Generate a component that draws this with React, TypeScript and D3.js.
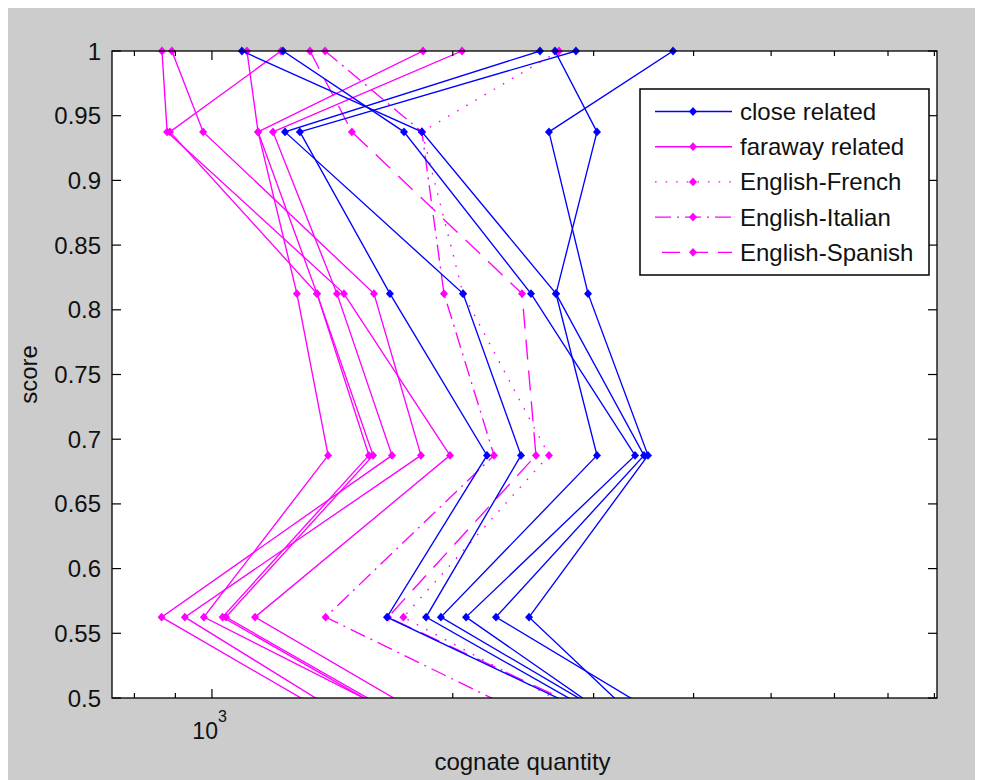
import React from "react";
import * as d3 from "d3";

// score levels shared by every line (last one lies below the axis and is clipped)
const scores = [1, 0.9375, 0.8125, 0.6875, 0.5625, 0.4375];

const closeRelated = [
  [1227, 1738, 2505, 3380, 2078, 4063],
  [1090, 1830, 2692, 3468, 2265, 4917],
  [2571, 1234, 2060, 2434, 1852, 4209],
  [2851, 1288, 1669, 2207, 1655, 4423],
  [2684, 3029, 2692, 3029, 1933, 4269],
  [3770, 2638, 2952, 3508, 2491, 4073],
];

const farawayRelated = [
  [866, 879, 1462, 1984, 1132, 2514],
  [1220, 886, 1353, 1571, 1031, 2326],
  [891, 975, 1594, 1825, 925, 1963],
  [1106, 1142, 1277, 1397, 977, 2451],
  [1836, 1142, 1353, 1590, 1041, 2353],
  [2054, 1192, 1433, 1679, 865, 1929],
];

const englishFrench = [2715, 1830, 2060, 2638, 1735, 4127];
const englishItalian = [1385, 1830, 1950, 2252, 1387, 3605];
const englishSpanish = [1326, 1496, 2441, 2541, 1660, 4487];

const legendLabels = [
  "close related",
  "faraway related",
  "English-French",
  "English-Italian",
  "English-Spanish",
];

const yTicks = [0.5, 0.55, 0.6, 0.65, 0.7, 0.75, 0.8, 0.85, 0.9, 0.95, 1];
const xMajorTicks = [1000];
const xMinorTicks = [800, 900, 2000, 3000, 4000, 5000, 6000, 7000, 8000];

const BLUE = "#0000ff";
const MAGENTA = "#ff00ff";
const FONT = "'Liberation Sans', Arial, Helvetica, sans-serif";

const DOTTED = "1.6 9";
const DASHDOT = "16 6 2 6";
const DASHED = "20 11";

const left = 112;
const right = 937;
const top = 51;
const bottom = 698;

const x = d3.scaleLog().domain([750, 8060]).range([left, right]);
const y = d3.scaleLinear().domain([0.5, 1]).range([bottom, top]);

const line = d3
  .line<number>()
  .x((d) => x(d))
  .y((_, i) => y(scores[i]));

const diamond = "M0,-4.4L4,0L0,4.4L-4,0Z";

const Series = ({ values, color, dash }) => (
  <g>
    <path
      d={line(values)}
      fill="none"
      stroke={color}
      strokeWidth={1.35}
      strokeDasharray={dash}
      clipPath="url(#plot-clip)"
    />
    {values.map((v, i) =>
      scores[i] >= 0.5 ? (
        <path
          key={i}
          d={diamond}
          transform={`translate(${x(v)},${y(scores[i])})`}
          fill={color}
        />
      ) : null
    )}
  </g>
);

export default function App() {
  const legendItems = [
    { color: BLUE, dash: undefined, offset: 0 },
    { color: MAGENTA, dash: undefined, offset: 0 },
    { color: MAGENTA, dash: DOTTED, offset: 0 },
    { color: MAGENTA, dash: DASHDOT, offset: 0 },
    { color: MAGENTA, dash: "18 10", offset: -7 },
  ];

  return (
    <svg
      width={983}
      height={780}
      style={{ position: "absolute", left: 0, top: 0, background: "#fff" }}
      fontFamily={FONT}
    >
      <defs>
        <clipPath id="plot-clip">
          <rect x={left} y={top} width={right - left} height={bottom - top} />
        </clipPath>
      </defs>

      <rect x={8} y={8} width={967} height={772} fill="#cccccc" />
      <rect x={left} y={top} width={right - left} height={bottom - top} fill="#fff" />

      {/* data */}
      {farawayRelated.map((vals, i) => (
        <Series key={"f" + i} values={vals} color={MAGENTA} />
      ))}
      <Series values={englishFrench} color={MAGENTA} dash={DOTTED} />
      <Series values={englishItalian} color={MAGENTA} dash={DASHDOT} />
      <Series values={englishSpanish} color={MAGENTA} dash={DASHED} />
      {closeRelated.map((vals, i) => (
        <Series key={"c" + i} values={vals} color={BLUE} />
      ))}

      {/* axes box */}
      <rect
        x={left}
        y={top}
        width={right - left}
        height={bottom - top}
        fill="none"
        stroke="#000"
        strokeWidth={1.3}
      />

      {/* y ticks */}
      {yTicks.map((t) => (
        <g key={t}>
          <line x1={left} x2={left + 9} y1={y(t)} y2={y(t)} stroke="#000" strokeWidth={1.2} />
          <line x1={right} x2={right - 9} y1={y(t)} y2={y(t)} stroke="#000" strokeWidth={1.2} />
          <text x={101} y={y(t) + 8.5} textAnchor="end" fontSize={24} fill="#111">
            {String(+t.toFixed(2))}
          </text>
        </g>
      ))}

      {/* x ticks */}
      {xMinorTicks.map((t) => (
        <g key={t}>
          <line x1={x(t)} x2={x(t)} y1={bottom} y2={bottom - 5} stroke="#000" strokeWidth={1.2} />
          <line x1={x(t)} x2={x(t)} y1={top} y2={top + 5} stroke="#000" strokeWidth={1.2} />
        </g>
      ))}
      {xMajorTicks.map((t) => (
        <g key={t}>
          <line x1={x(t)} x2={x(t)} y1={bottom} y2={bottom - 9} stroke="#000" strokeWidth={1.2} />
          <line x1={x(t)} x2={x(t)} y1={top} y2={top + 9} stroke="#000" strokeWidth={1.2} />
          <text x={x(t) + 6} y={739} textAnchor="end" fontSize={23} fill="#111">
            10
          </text>
          <text x={x(t) + 6} y={722} fontSize={16} fill="#111">
            {Math.round(Math.log10(t))}
          </text>
        </g>
      ))}

      {/* axis labels */}
      <text x={(left + right) / 2 - 2} y={770} textAnchor="middle" fontSize={24} fill="#111">
        cognate quantity
      </text>
      <text
        transform={`translate(37,${(top + bottom) / 2}) rotate(-90)`}
        textAnchor="middle"
        fontSize={24}
        fill="#111"
      >
        score
      </text>

      {/* legend */}
      <rect x={640} y={89} width={289} height={186} fill="#fff" stroke="#000" strokeWidth={1.5} />
      {legendItems.map((it, i) => {
        const ry = 111.5 + i * 35.2;
        const x1 = it.offset ? 655 - it.offset : 655;
        return (
          <g key={i}>
            <line
              x1={x1}
              x2={732}
              y1={ry}
              y2={ry}
              stroke={it.color}
              strokeWidth={1.35}
              strokeDasharray={it.dash}
            />
            <path d={diamond} transform={`translate(693,${ry})`} fill={it.color} />
            <text x={740} y={ry + 8.5} fontSize={24} fill="#111">
              {legendLabels[i]}
            </text>
          </g>
        );
      })}
    </svg>
  );
}
